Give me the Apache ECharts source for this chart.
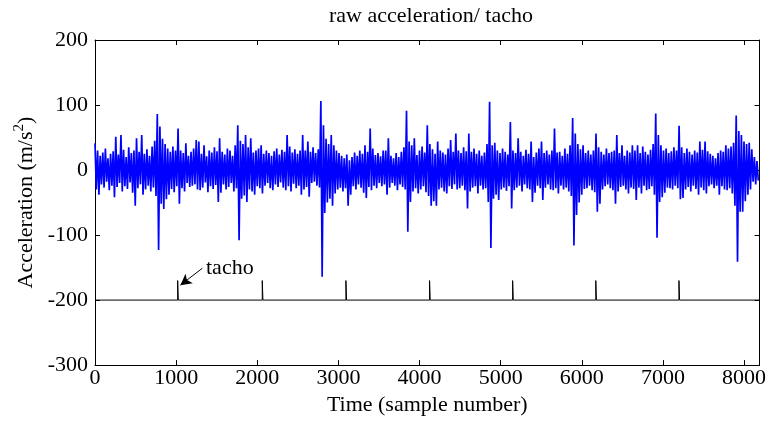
<!DOCTYPE html>
<html><head><meta charset="utf-8">
<script src="https://cdn.jsdelivr.net/npm/echarts@6/dist/echarts.min.js"></script>
<style>html,body{margin:0;padding:0;background:#fff}#c{width:769px;height:421px}</style>
</head><body><div id="c"></div>
<script>
// ---- data ----
const binSize = 32;            // samples per envelope bin
const accHigh = [
 41, 30, 22, 27, 33, 18, 25, 29, 51, 24, 54, 31, 20, 35, 26, 30,
 49, 28, 54, 25, 32, 22, 36, 45, 86, 67, 48, 40, 33, 28, 36, 30,
 64, 30, 26, 41, 22, 28, 33, 46, 44, 25, 38, 21, 30, 27, 35, 29,
 49, 28, 24, 33, 30, 22, 38, 69, 45, 40, 54, 35, 49, 27, 30, 33,
 38, 25, 30, 26, 22, 29, 33, 24, 31, 28, 54, 36, 27, 32, 25, 30,
 54, 30, 44, 28, 35, 26, 32, 106, 69, 48, 40, 54, 38, 30, 26, 22,
 18, 24, 15, 20, 27, 22, 30, 25, 38, 28, 64, 33, 23, 26, 21, 30,
 30, 49, 22, 18, 26, 20, 28, 35, 91, 44, 38, 49, 23, 30, 36, 27,
 69, 40, 32, 25, 44, 30, 27, 24, 33, 46, 28, 56, 30, 26, 35, 29,
 56, 28, 33, 25, 30, 22, 27, 40, 105, 38, 42, 30, 26, 33, 28, 24,
 74, 30, 26, 49, 28, 22, 31, 25, 44, 20, 27, 33, 44, 26, 30, 24,
 30, 64, 27, 28, 22, 33, 25, 38, 80, 56, 40, 32, 38, 26, 30, 24,
 30, 56, 35, 28, 24, 33, 26, 28, 30, 54, 26, 38, 22, 30, 27, 38,
 30, 38, 26, 36, 28, 24, 31, 40, 87, 54, 38, 30, 33, 26, 29, 35,
 30, 68, 35, 26, 33, 28, 24, 30, 27, 44, 31, 44, 29, 25, 22, 18,
 26, 30, 28, 38, 33, 36, 42, 84, 60, 54, 44, 40, 42, 32, 20, 14
];
const accLow = [
 -30, -38, -22, -27, -18, -31, -24, -42, -26, -20, -33, -25, -29, -19, -35, -55,
 -28, -22, -38, -30, -24, -33, -27, -40, -123, -52, -60, -45, -38, -29, -34, -25,
 -52, -28, -33, -20, -26, -24, -22, -30, -31, -27, -19, -34, -25, -29, -23, -49,
 -35, -22, -30, -26, -20, -33, -28, -108, -44, -39, -49, -30, -33, -38, -25, -28,
 -36, -24, -20, -28, -31, -22, -26, -19, -27, -31, -25, -33, -21, -28, -24, -38,
 -30, -26, -41, -20, -18, -24, -27, -164, -66, -50, -44, -55, -36, -30, -27, -33,
 -28, -55, -38, -25, -30, -22, -27, -35, -43, -26, -31, -24, -28, -20, -25, -22,
 -38, -27, -20, -24, -31, -22, -26, -30, -95, -49, -33, -28, -36, -30, -25, -34,
 -40, -55, -48, -55, -30, -27, -33, -36, -25, -29, -22, -30, -28, -24, -31, -59,
 -33, -27, -25, -36, -24, -30, -28, -49, -120, -44, -38, -46, -30, -27, -32, -25,
 -59, -31, -27, -24, -33, -22, -28, -30, -49, -35, -24, -28, -46, -27, -22, -30,
 -31, -28, -36, -24, -30, -27, -33, -40, -116, -69, -50, -38, -29, -28, -24, -31,
 -34, -64, -52, -30, -25, -22, -28, -31, -52, -33, -26, -24, -30, -36, -27, -29,
 -46, -27, -36, -24, -31, -29, -25, -38, -104, -49, -42, -35, -27, -28, -30, -24,
 -28, -45, -43, -30, -26, -33, -24, -29, -38, -27, -31, -36, -25, -22, -28, -24,
 -38, -25, -30, -31, -28, -36, -55, -141, -64, -64, -48, -38, -30, -18, -22, -16
];
const tachoPulses = [1019, 2062, 3093, 4124, 5148, 6173, 7198];
const tachoBase = -200;
const tachoTop = -170;
const tachoWidth = 8;
const nSamples = 8192;
const xTickValues = [0, 1000, 2000, 3000, 4000, 5000, 6000, 7000, 8000];
const yTickValues = [-300, -200, -100, 0, 100, 200];
const arrowFrom = [1323, -151];
const arrowTo = [1053, -177];

// ---- build series ----
const accData = [];
for (let i = 0; i < accHigh.length; i++) {
  accData.push([i * binSize, accHigh[i]]);
  accData.push([i * binSize + binSize / 2, accLow[i]]);
}
const tachoData = [[0, tachoBase]];
tachoPulses.forEach(p => {
  tachoData.push([p, tachoBase], [p, tachoTop], [p + tachoWidth, tachoTop], [p + tachoWidth, tachoBase]);
});
tachoData.push([nSamples - 1, tachoBase]);

const FONT = 'Liberation Serif';
const FS = 22;
const axisLineStyle = { show: true, onZero: false, lineStyle: { color: '#000', width: 1 } };
const tickStyle = { show: true, inside: true, length: 5, lineStyle: { color: '#000', width: 1 } };
const lblStyle = { color: '#000', fontFamily: FONT, fontSize: FS, formatter: v => String(v) };

const xBase = { type: 'value', min: xTickValues[0], max: nSamples, interval: 1000,
  axisLine: axisLineStyle, axisTick: tickStyle, splitLine: { show: false } };
const yBase = { type: 'value', min: yTickValues[0], max: yTickValues[yTickValues.length - 1], interval: 100,
  axisLine: axisLineStyle, axisTick: tickStyle, splitLine: { show: false } };

const chart = echarts.init(document.getElementById('c'), null, { renderer: 'canvas' });
chart.setOption({
  animation: false,
  backgroundColor: '#fff',
  title: { text: 'raw acceleration/ tacho', left: 426, top: 0, textAlign: 'center',
    textStyle: { fontFamily: FONT, fontSize: FS, fontWeight: 'normal', color: '#000' } },
  grid: { left: 95, right: 6, top: 40, bottom: 55 },
  xAxis: [
    Object.assign({}, xBase, { position: 'bottom',
      axisLabel: Object.assign({ margin: 2, showMaxLabel: false }, lblStyle),
      name: 'Time (sample number)', nameLocation: 'middle', nameGap: 21,
      nameTextStyle: { color: '#000', fontFamily: FONT, fontSize: FS } }),
    Object.assign({}, xBase, { position: 'top', axisLabel: { show: false } })
  ],
  yAxis: [
    Object.assign({}, yBase, { position: 'left',
      axisLabel: Object.assign({ margin: 7 }, lblStyle),
      name: '{a|Acceleration (m/s}{b|2}{a|)}', nameLocation: 'middle', nameGap: 48,
      nameTextStyle: { color: '#000', fontFamily: FONT, fontSize: FS,
        rich: { a: { fontFamily: FONT, fontSize: FS, color: '#000' },
                b: { fontFamily: FONT, fontSize: 15, color: '#000', verticalAlign: 'bottom', padding: [0, 0, 13, 0] } } } }),
    Object.assign({}, yBase, { position: 'right', axisLabel: { show: false } })
  ],
  series: [
    { name: 'acceleration', type: 'line', xAxisIndex: 0, yAxisIndex: 0, data: accData,
      showSymbol: false, symbol: 'none', clip: true,
      lineStyle: { color: '#0000ff', width: 1.7 }, itemStyle: { color: '#0000ff' } },
    { name: 'tacho', type: 'line', xAxisIndex: 0, yAxisIndex: 0, data: tachoData,
      showSymbol: false, symbol: 'none', clip: true,
      lineStyle: { color: '#000', width: 1 }, itemStyle: { color: '#000' },
      markLine: { silent: true, animation: false, symbol: ['none', 'arrow'], symbolSize: [9, 11],
        lineStyle: { color: '#000', width: 1, type: 'solid' }, label: { show: false },
        data: [[{ coord: arrowFrom }, { coord: arrowTo }]] } }
  ],
  graphic: [
    { type: 'text', left: 206, top: 257, style: { text: 'tacho', fill: '#000', font: FS + 'px "Liberation Serif"' } }
  ]
});
</script>
</body></html>
